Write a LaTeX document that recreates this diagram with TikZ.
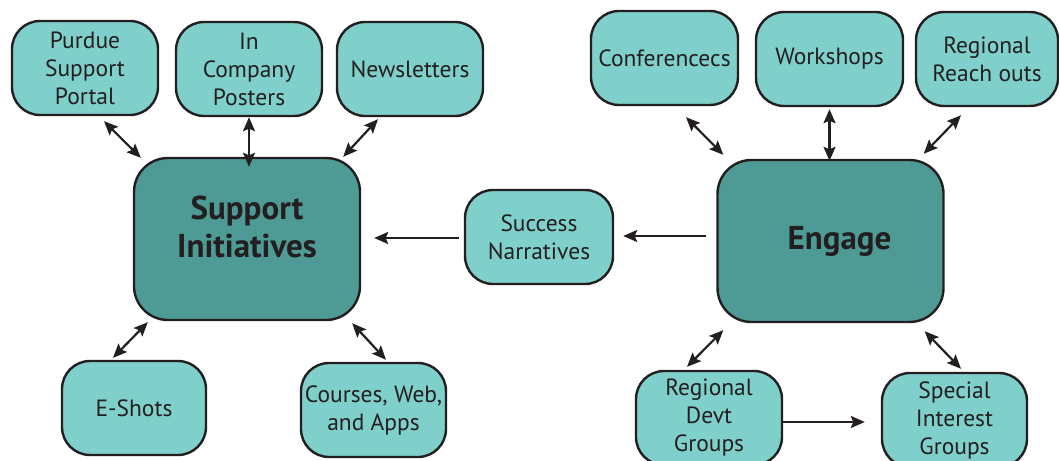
\documentclass[tikz,border=0pt]{standalone}
\usepackage{fontspec}
\setmainfont{PT Sans}
\usetikzlibrary{arrows.meta,calc}
\definecolor{lightteal}{HTML}{7FCFCA}
\definecolor{darkteal}{HTML}{4E9A95}
\definecolor{ink}{HTML}{231F20}
\tikzset{
  leaf/.style={draw=ink, line width=2.4pt, fill=lightteal, rounded corners=28pt,
    minimum width=#1, minimum height=94pt, inner sep=0pt, align=center,
    text=ink, font=\fontsize{23.5}{28}\selectfont},
  leaf/.default=146pt,
  hub/.style={draw=ink, line width=2.4pt, fill=darkteal, rounded corners=34pt,
    minimum width=226pt, minimum height=162pt, inner sep=0pt, align=center,
    text=ink, font=\fontsize{33}{38}\selectfont\bfseries},
  tip/.tip={Stealth[length=14pt,width=12pt,inset=2.5pt]},
  both/.style={draw=ink, line width=2.2pt, tip-tip},
  one/.style={draw=ink, line width=2.2pt, -tip}
}
\begin{document}
\begin{tikzpicture}[x=1pt,y=-1pt]
\useasboundingbox (0,0) rectangle (1059,460);
\clip (0,0) rectangle (1059,460);
% nodes
\node[leaf] (purdue) at (85,68) {Purdue\\Support\\Portal};
\node[leaf] (posters) at (249,69) {In\\Company\\Posters};
\node[leaf] (news) at (410,69) {Newsletters};
\node[hub] (si) at (247,239) {\raisebox{8pt}[\height][\depth]{\begin{tabular}{@{}c@{}}Support\\Initiatives\end{tabular}}};
\node[leaf=148pt] (succ) at (539,237) {Success\\Narratives};
\node[leaf=147pt] (conf) at (664.5,58) {Conferencecs};
\node[leaf=147pt] (work) at (829.5,59) {Workshops};
\node[leaf=142pt] (reach) at (987,59) {Regional\\Reach outs};
\node[hub] (eng) at (830.5,241) {\hspace*{18pt}Engage};
\node[leaf=144pt] (eshots) at (134,408) {E-Shots};
\node[leaf=145pt] (courses) at (373.5,410) {Courses, Web,\\and Apps};
\node[leaf] (rdg) at (709,418) {Regional\\Devt\\Groups};
\node[leaf=145pt] (sig) at (954.5,420) {Special\\Interest\\Groups};
% connectors
\draw[both] ($(purdue.south)+(19,5)$) -- ($(si.north west)+(8,1)$);
\draw[both] ($(posters.south)+(0,0)$) -- ($(si.north)+(2,10)$);
\draw[both] ($(news.south)+(-32,2)$) -- ($(si.north east)+(-18,0)$);
\draw[one] ($(succ.west)+(-5,1)$) -- ($(si.east)+(13,-1)$);
\draw[one] ($(eng.west)+(-10,-5)$) -- ($(succ.east)+(9,-1)$);
\draw[both] ($(conf.south)+(21.5,11)$) -- ($(eng.north west)+(7,-4)$);
\draw[both] ($(work.south)+(0,2)$) -- ($(eng.north)+(-1,2)$);
\draw[both] ($(reach.south)+(-26,8)$) -- ($(eng.north east)+(-21,-5)$);
\draw[both] ($(si.south west)+(15,1)$) -- ($(eshots.north)+(-21,-2)$);
\draw[both] ($(si.south east)+(-9,2)$) -- ($(courses.north)+(12.5,-2)$);
\draw[both] ($(eng.south west)+(7,7)$) -- ($(rdg.north)+(-22,-3)$);
\draw[both] ($(eng.south east)+(-20,8)$) -- ($(sig.north)+(6.5,-3)$);
\draw[one] ($(rdg.east)+(0,4)$) -- ($(sig.west)+(-16,2)$);
\end{tikzpicture}
\end{document}
